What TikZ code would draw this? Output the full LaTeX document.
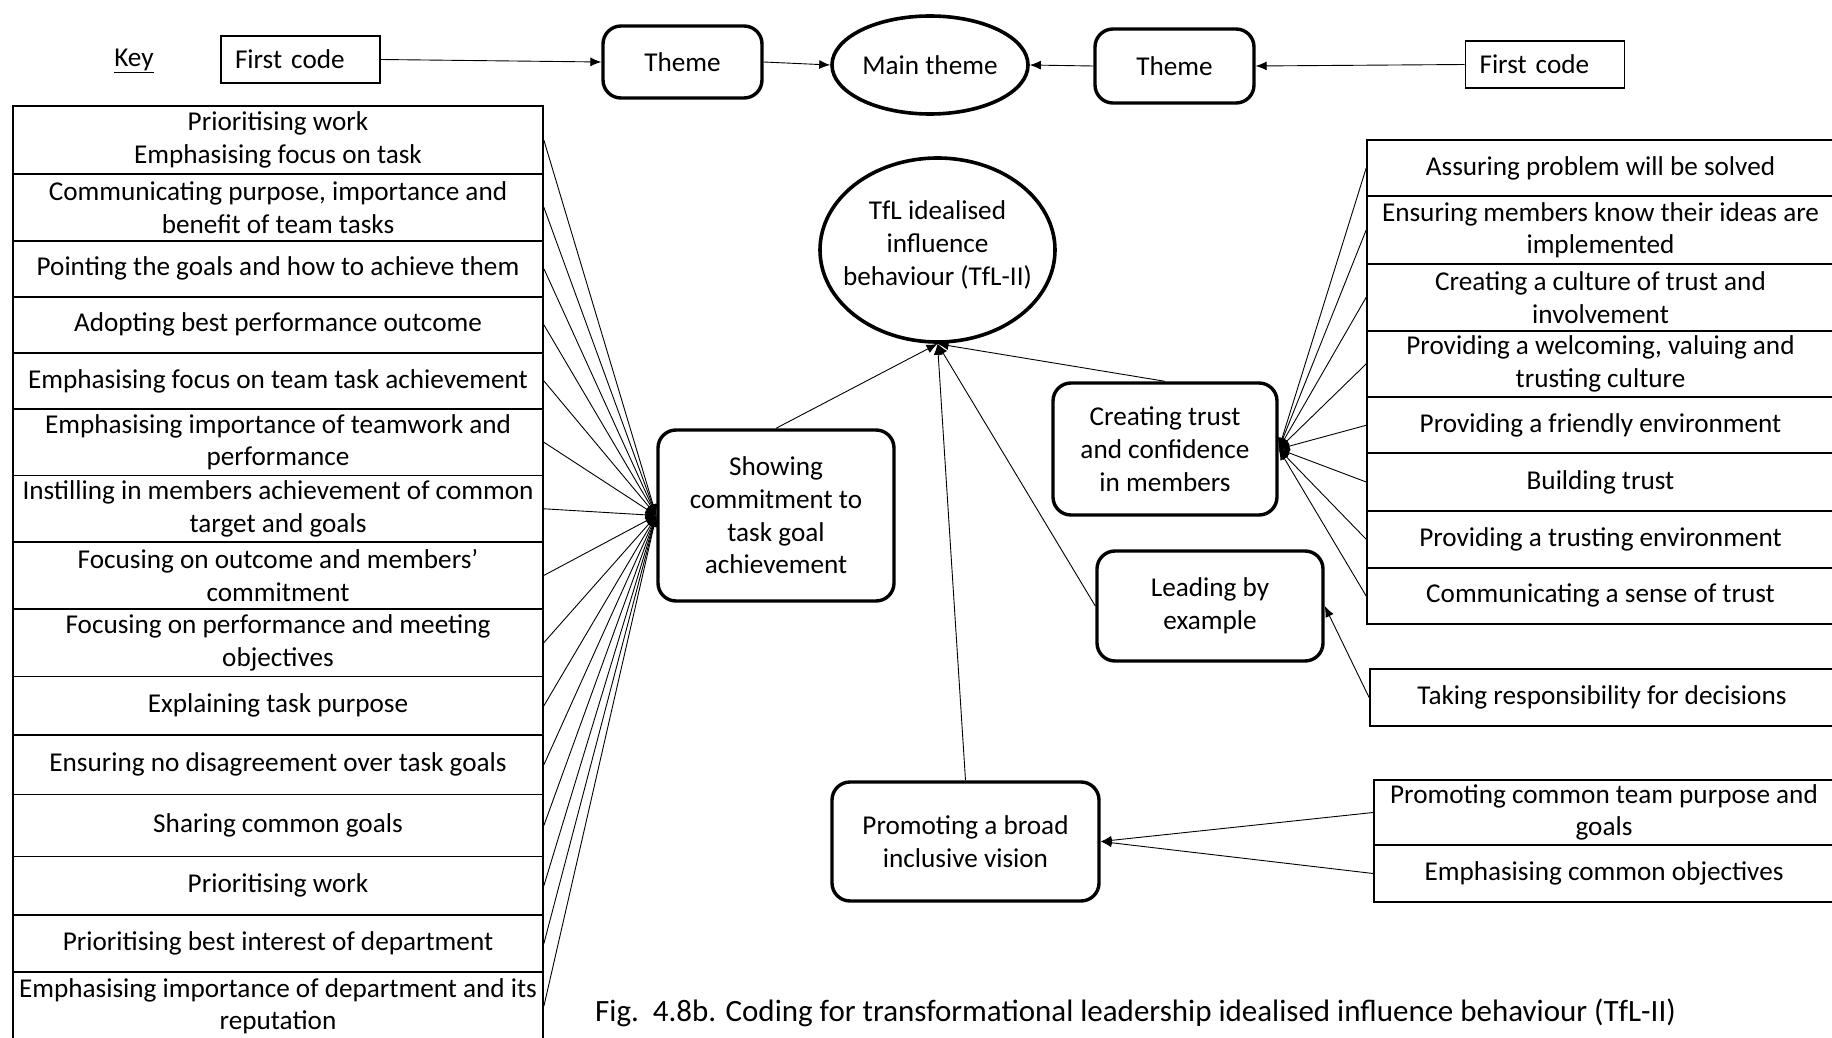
\documentclass[tikz,border=0pt]{standalone}
\usepackage{fontspec}
\setmainfont{Carlito}
\usetikzlibrary{shapes.geometric,arrows.meta}

\tikzset{
  code/.style={draw, line width=1.8pt, inner sep=0pt, align=center},
  keycode/.style={draw, line width=1.8pt, inner xsep=14pt, inner ysep=0pt, text width=131pt, align=left},
  theme/.style={draw, line width=3.4pt, rounded corners=18pt, inner sep=0pt, align=center},
  mainth/.style={draw, ellipse, line width=3.6pt, inner sep=0pt, align=center},
  conn/.style={line width=0.9pt, -{Latex[length=11pt,width=9pt]}},
  lcol/.style={code, minimum width=530pt},
  rcol/.style={code, minimum width=467pt},
}

\begin{document}
\begin{tikzpicture}[x=1pt, y=-1pt, font=\fontsize{27.2}{32.7}\selectfont]
\useasboundingbox[fill=white] (0,0) rectangle (1832,1038);

% ---- key ----
\node (key) at (134,61) {\underline{Key}};
\node[keycode, minimum height=47pt] (fc1) at (300.5,59.5) {First code};
\node[theme, minimum width=159pt, minimum height=72pt] (th1) at (682.5,62) {Theme};
\node[mainth, minimum width=196pt, minimum height=98pt] (main) at (930,65) {Main theme};
\node[theme, minimum width=159pt, minimum height=74pt] (th2) at (1174.5,66) {Theme};
\node[keycode, minimum height=47pt] (fc2) at (1545,64.5) {First code};
\draw[conn] (fc1.east) -- (th1.west);
\draw[conn] (th1.east) -- (main.west);
\draw[conn] (th2.west) -- (main.east);
\draw[conn] (fc2.west) -- (th2.east);

% ---- main theme (text box kept zero-sized so the ellipse keeps its size) ----
\node[mainth, minimum width=235pt, minimum height=184pt] (tfl) at (937.5,250)
  {\raisebox{-2pt}[0pt][0pt]{\makebox[0pt]{\begin{tabular}{@{}c@{}}TfL idealised\\influence\\behaviour (TfL-II)\end{tabular}}}};

% ---- themes ----
\node[theme, minimum width=236pt, minimum height=171pt] (show) at (776,515.5)
  {Showing\\commitment to\\task goal\\achievement};
\node[theme, minimum width=224pt, minimum height=132pt] (trust) at (1165,449)
  {Creating trust\\and confidence\\in members};
\node[theme, minimum width=226pt, minimum height=110pt] (lead) at (1210,606)
  {Leading by\\example};
\node[theme, minimum width=267pt, minimum height=119pt] (vision) at (965.5,841.5)
  {Promoting a broad\\inclusive vision};

% ---- first codes, left column ----
\node[lcol, minimum height=67.8pt] (l1) at (278,140.2) {Prioritising work\\Emphasising focus on task};
\node[lcol, minimum height=66.6pt] (l2) at (278,207.4) {Communicating purpose, importance and\\benefit of team tasks};
\node[lcol, minimum height=56.1pt] (l3) at (278,268.75) {Pointing the goals and how to achieve them};
\node[lcol, minimum height=56.1pt] (l4) at (278,324.85) {Adopting best performance outcome};
\node[lcol, minimum height=56.1pt] (l5) at (278,380.95) {Emphasising focus on team task achievement};
\node[lcol, minimum height=66.5pt] (l6) at (278,442.25) {Emphasising importance of teamwork and\\performance};
\node[lcol, minimum height=66.6pt] (l7) at (278,508.8) {Instilling in members achievement of common\\target and goals};
\node[lcol, minimum height=66.6pt] (l8) at (278,575.4) {Focusing on outcome and members’\\commitment};
\node[lcol, minimum height=67.8pt] (l9) at (278,642.6) {Focusing on performance and meeting\\objectives};
\node[lcol, minimum height=58.4pt] (l10) at (278,705.7) {Explaining task purpose};
\node[lcol, minimum height=59.6pt] (l11) at (278,764.7) {Ensuring no disagreement over task goals};
\node[lcol, minimum height=61.9pt] (l12) at (278,825.45) {Sharing common goals};
\node[lcol, minimum height=58.5pt] (l13) at (278,885.65) {Prioritising work};
\node[lcol, minimum height=57.2pt] (l14) at (278,943.5) {Prioritising best interest of department};
\node[lcol, minimum height=68pt] (l15) at (278,1006.1) {Emphasising importance of department and its\\reputation};

% ---- first codes, right column ----
\node[rcol, minimum height=56.1pt] (r1) at (1600.5,168.25) {Assuring problem will be solved};
\node[rcol, minimum height=67.8pt] (r2) at (1600.5,230.2) {Ensuring members know their ideas are\\implemented};
\node[rcol, minimum height=66.6pt] (r3) at (1600.5,297.4) {Creating a culture of trust and\\involvement};
\node[rcol, minimum height=66.6pt] (r4) at (1600.5,364) {Providing a welcoming, valuing and\\trusting culture};
\node[rcol, minimum height=56pt] (r5) at (1600.5,425.3) {Providing a friendly environment};
\node[rcol, minimum height=57.3pt] (r6) at (1600.5,481.95) {Building trust};
\node[rcol, minimum height=57.2pt] (r7) at (1600.5,539.2) {Providing a trusting environment};
\node[rcol, minimum height=56.1pt] (r8) at (1600.5,595.85) {Communicating a sense of trust};

\node[code, minimum width=464pt, minimum height=57pt] (take) at (1602,697.5) {Taking responsibility for decisions};
\node[code, minimum width=460pt, minimum height=65pt] (pc1) at (1604,812.5) {Promoting common team purpose and\\goals};
\node[code, minimum width=460pt, minimum height=57pt] (pc2) at (1604,873.5) {Emphasising common objectives};

% ---- connectors ----
\foreach \i in {1,...,15} \draw[conn] (l\i.east) -- (show.west);
\foreach \i in {1,...,8} \draw[conn] (r\i.west) -- (trust.east);
\draw[conn] (take.west) -- (lead.east);
\draw[conn] (pc1.west) -- (vision.east);
\draw[conn] (pc2.west) -- (vision.east);

\draw[conn] (show.north) -- (tfl.south);
\draw[conn] (trust.north) -- (tfl.south);
\draw[conn] (lead.west) -- (tfl.south);
\draw[conn] (vision.north) -- (tfl.south);

% ---- caption ----
\node[anchor=west, inner sep=0pt, font=\fontsize{31}{36}\selectfont] (caption) at (595,1013)
  {Fig.\ \ 4.8b. Coding for transformational leadership idealised influence behaviour (TfL-II)};
\end{tikzpicture}
\end{document}
